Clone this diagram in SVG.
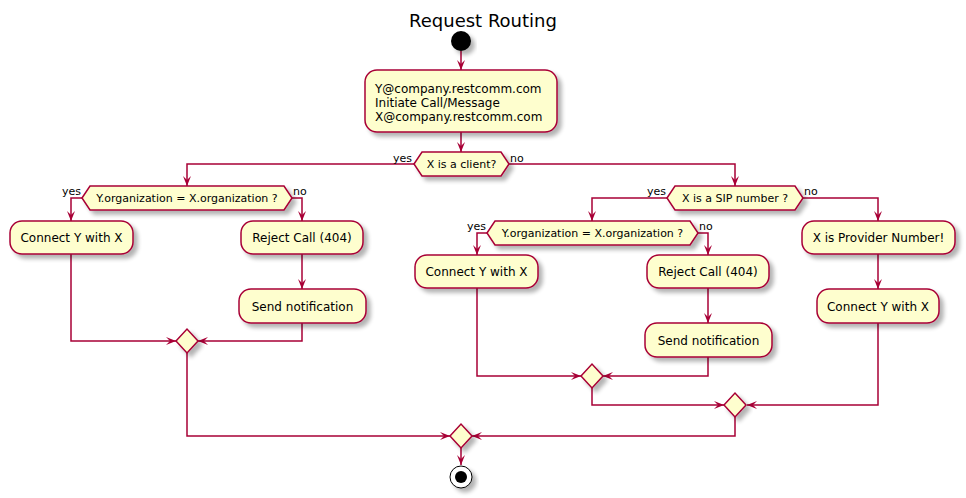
<svg xmlns="http://www.w3.org/2000/svg" width="966" height="498" viewBox="0 0 966 498">
<style>
.n{fill:#FEFECE;stroke:#A80036;stroke-width:1.5;filter:url(#sh)}
.t{font-family:"DejaVu Sans",sans-serif;font-size:12px;fill:#000}
.d{font-family:"DejaVu Sans",sans-serif;font-size:11px;fill:#000}
.c{text-anchor:middle}
.e{text-anchor:end}
.ln{fill:none;stroke:#A80036;stroke-width:1.5;marker-end:url(#ah)}
</style>
<defs>
<filter id="sh" x="-20%" y="-20%" width="150%" height="160%">
<feGaussianBlur in="SourceAlpha" stdDeviation="2"/>
<feOffset dx="4" dy="4" result="o"/>
<feComponentTransfer><feFuncA type="linear" slope="0.3"/></feComponentTransfer>
<feMerge><feMergeNode/><feMergeNode in="SourceGraphic"/></feMerge>
</filter>
<marker id="ah" markerUnits="userSpaceOnUse" viewBox="0 0 10 8" markerWidth="10" markerHeight="8" refX="10" refY="4" orient="auto">
<path d="M0,0 L10,4 L0,8 L4,4 Z" fill="#A80036"/>
</marker>
</defs>
<rect width="966" height="498" fill="#FFFFFF"/>
<text x="483" y="27" class="c" style="font-family:'DejaVu Sans',sans-serif;font-size:18px">Request Routing</text>

<g id="connectors">
<path class="ln" d="M461,51 V70"/>
<path class="ln" d="M461,132 V152"/>
<path class="ln" d="M414,164 H187 V186"/>
<path class="ln" d="M509,164 H735 V186"/>
<path class="ln" d="M82,198 H71 V221"/>
<path class="ln" d="M292,198 H302 V221"/>
<path class="ln" d="M302,254 V289"/>
<path class="ln" d="M71,254 V341 H176"/>
<path class="ln" d="M302,323 V341 H198"/>
<path class="ln" d="M187,353 V436 H450"/>
<path class="ln" d="M667,198 H592 V221"/>
<path class="ln" d="M803,198 H878 V221"/>
<path class="ln" d="M487,233 H477 V255"/>
<path class="ln" d="M698,233 H708 V255"/>
<path class="ln" d="M708,288 V323"/>
<path class="ln" d="M477,288 V376 H581"/>
<path class="ln" d="M708,357 V376 H603"/>
<path class="ln" d="M592,388 V405 H724"/>
<path class="ln" d="M878,254 V289"/>
<path class="ln" d="M878,323 V405 H747"/>
<path class="ln" d="M735,417 V436 H472"/>
<path class="ln" d="M461,448 V465"/>
</g>

<g id="start"><circle cx="461" cy="41" r="10" fill="#000" style="filter:url(#sh)"/></g>

<g id="initiate">
<rect class="n" x="365" y="70" width="192" height="62" rx="12"/>
<text class="t" x="375" y="93">Y@company.restcomm.com</text>
<text class="t" x="375" y="107">Initiate Call/Message</text>
<text class="t" x="375" y="121">X@company.restcomm.com</text>
</g>

<g id="isClient">
<polygon class="n" points="414,164 422,152 501,152 509,164 501,176 422,176"/>
<text class="d c" x="461.5" y="168">X is a client?</text>
<text class="d e" x="412" y="162">yes</text>
<text class="d" x="510" y="162">no</text>
</g>

<g id="orgLeft">
<polygon class="n" points="82,198 90,186 284,186 292,198 284,210 90,210"/>
<text class="d c" x="187" y="202">Y.organization = X.organization ?</text>
<text class="d e" x="81" y="195">yes</text>
<text class="d" x="293" y="195">no</text>
</g>

<g id="connectLeft">
<rect class="n" x="10" y="221" width="123" height="33" rx="12"/>
<text class="t c" x="71.5" y="242">Connect Y with X</text>
</g>
<g id="rejectLeft">
<rect class="n" x="241" y="221" width="122" height="33" rx="12"/>
<text class="t c" x="302" y="242">Reject Call (404)</text>
</g>
<g id="sendLeft">
<rect class="n" x="239" y="289" width="127" height="34" rx="12"/>
<text class="t c" x="302.5" y="311">Send notification</text>
</g>
<g id="mergeLeft"><polygon class="n" points="176,341 187,329 198,341 187,353"/></g>

<g id="isSip">
<polygon class="n" points="667,198 675,186 795,186 803,198 795,210 675,210"/>
<text class="d c" x="735" y="202">X is a SIP number ?</text>
<text class="d e" x="666" y="195">yes</text>
<text class="d" x="804" y="195">no</text>
</g>

<g id="orgMid">
<polygon class="n" points="487,233 495,221 690,221 698,233 690,245 495,245"/>
<text class="d c" x="592.5" y="237">Y.organization = X.organization ?</text>
<text class="d e" x="486" y="230">yes</text>
<text class="d" x="699" y="230">no</text>
</g>

<g id="connectMid">
<rect class="n" x="415" y="255" width="123" height="33" rx="12"/>
<text class="t c" x="476.5" y="276">Connect Y with X</text>
</g>
<g id="rejectMid">
<rect class="n" x="647" y="255" width="122" height="33" rx="12"/>
<text class="t c" x="708" y="276">Reject Call (404)</text>
</g>
<g id="sendMid">
<rect class="n" x="645" y="323" width="127" height="34" rx="12"/>
<text class="t c" x="708.5" y="345">Send notification</text>
</g>
<g id="mergeMid"><polygon class="n" points="581,376 592,364 603,376 592,388"/></g>

<g id="provider">
<rect class="n" x="802" y="221" width="153" height="33" rx="12"/>
<text class="t c" x="878.5" y="242">X is Provider Number!</text>
</g>
<g id="connectRight">
<rect class="n" x="817" y="289" width="122" height="34" rx="12"/>
<text class="t c" x="878" y="311">Connect Y with X</text>
</g>
<g id="mergeRight"><polygon class="n" points="724,405 735,393 746,405 735,417"/></g>

<g id="mergeFinal"><polygon class="n" points="450,436 461,424 472,436 461,448"/></g>

<g id="end">
<circle cx="461" cy="477" r="11" fill="#FFFFFF" stroke="#000" stroke-width="1" style="filter:url(#sh)"/>
<circle cx="461" cy="477" r="6" fill="#000"/>
</g>
</svg>
